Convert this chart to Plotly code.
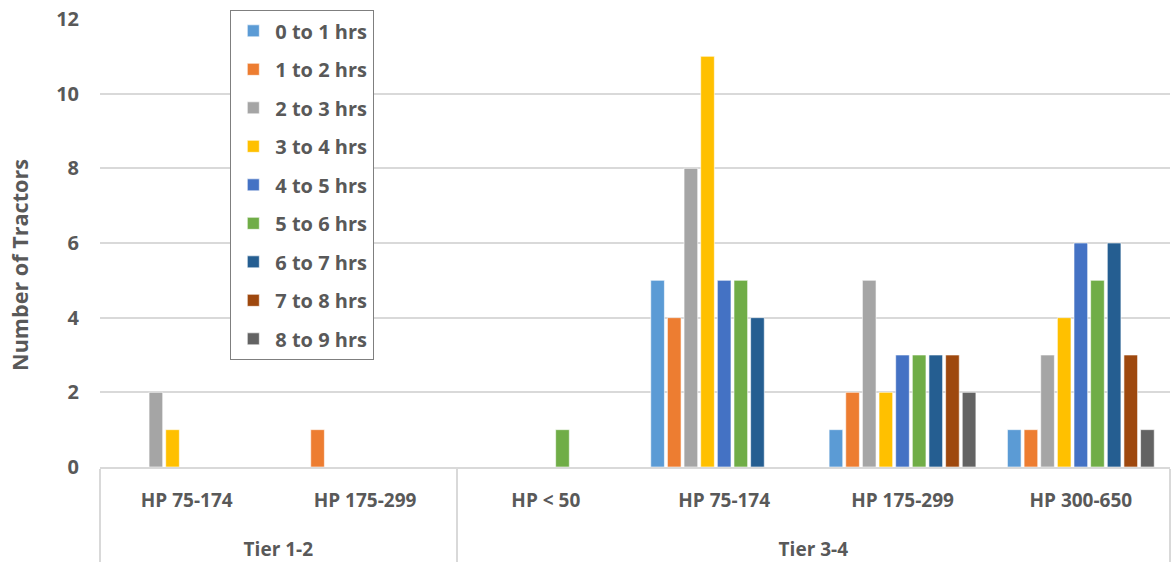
import plotly.graph_objects as go

# Tier 1-2 labels carry a trailing space so that Plotly keeps the
# inner categories in the reference order within each tier group.
tiers = ["Tier 1-2", "Tier 1-2", "Tier 3-4", "Tier 3-4", "Tier 3-4", "Tier 3-4"]
hp_classes = ["HP 75-174 ", "HP 175-299 ", "HP < 50", "HP 75-174", "HP 175-299", "HP 300-650"]

series_names = ["0 to 1 hrs", "1 to 2 hrs", "2 to 3 hrs", "3 to 4 hrs", "4 to 5 hrs",
                "5 to 6 hrs", "6 to 7 hrs", "7 to 8 hrs", "8 to 9 hrs"]
hrs_0_1 = [0, 0, 0, 5, 1, 1]
hrs_1_2 = [0, 1, 0, 4, 2, 1]
hrs_2_3 = [2, 0, 0, 8, 5, 3]
hrs_3_4 = [1, 0, 0, 11, 2, 4]
hrs_4_5 = [0, 0, 0, 5, 3, 6]
hrs_5_6 = [0, 0, 1, 5, 3, 5]
hrs_6_7 = [0, 0, 0, 4, 3, 6]
hrs_7_8 = [0, 0, 0, 0, 3, 3]
hrs_8_9 = [0, 0, 0, 0, 2, 1]
series_values = [hrs_0_1, hrs_1_2, hrs_2_3, hrs_3_4, hrs_4_5, hrs_5_6, hrs_6_7, hrs_7_8, hrs_8_9]

y_title = "Number of Tractors"

colors = ["#5B9BD5", "#ED7D31", "#A5A5A5", "#FFC000", "#4472C4",
          "#70AD47", "#255E91", "#9E480E", "#636363"]

FONT = "Open Sans"
GRAY = "#595959"

# extra blank line under each inner label pushes the tier row further down
hp_display = [h + "<br><span style='font-size:46px'>&nbsp;</span>" for h in hp_classes]

fig = go.Figure()
for name, vals, col in zip(series_names, series_values, colors):
    fig.add_trace(go.Bar(
        x=[tiers, hp_display], y=vals, name=name, legendgroup=name,
        marker=dict(color=col, line=dict(color="white", width=0.6)),
    ))

fig.add_annotation(
    text=y_title, textangle=-90, xref="paper", yref="paper",
    x=-0.0748, y=0.451, xanchor="center", yanchor="middle", showarrow=False,
    font=dict(family=FONT, size=21.6, color=GRAY, weight="bold"),
)

fig.update_layout(
    width=1171, height=567,
    margin=dict(l=100, r=1, t=19, b=100, autoexpand=False),
    paper_bgcolor="white", plot_bgcolor="white",
    barmode="group", bargap=0.16, bargroupgap=0.18,
    font=dict(family=FONT, color=GRAY, size=19),
    showlegend=True,
    legend=dict(
        x=0.1215, y=1.02, xanchor="left", yanchor="top",
        bgcolor="white", bordercolor="#7f7f7f", borderwidth=1.3,
        font=dict(family=FONT, size=20, color=GRAY, weight="bold"),
        tracegroupgap=9.5, traceorder="grouped",
        itemwidth=34, maxheight=600,
    ),
    yaxis=dict(
        range=[0, 12], dtick=2, showgrid=True, gridcolor="#D9D9D9", gridwidth=1.5,
        zeroline=False, showline=False, automargin=False,
        tickfont=dict(family=FONT, size=20, color=GRAY, weight="bold"),
        ticklabelstandoff=20,
    ),
    xaxis=dict(
        type="multicategory", showline=True, linecolor="#D9D9D9", linewidth=1.5,
        showdividers=True, dividercolor="#D9D9D9", dividerwidth=1.5,
        automargin=False,
        tickfont=dict(family=FONT, size=19, color=GRAY, weight="bold"),
        ticks="", ticklabelstandoff=15,
    ),
)

fig.write_html("out.html", config={"displayModeBar": False},
               post_script="document.body.style.margin='0';")
